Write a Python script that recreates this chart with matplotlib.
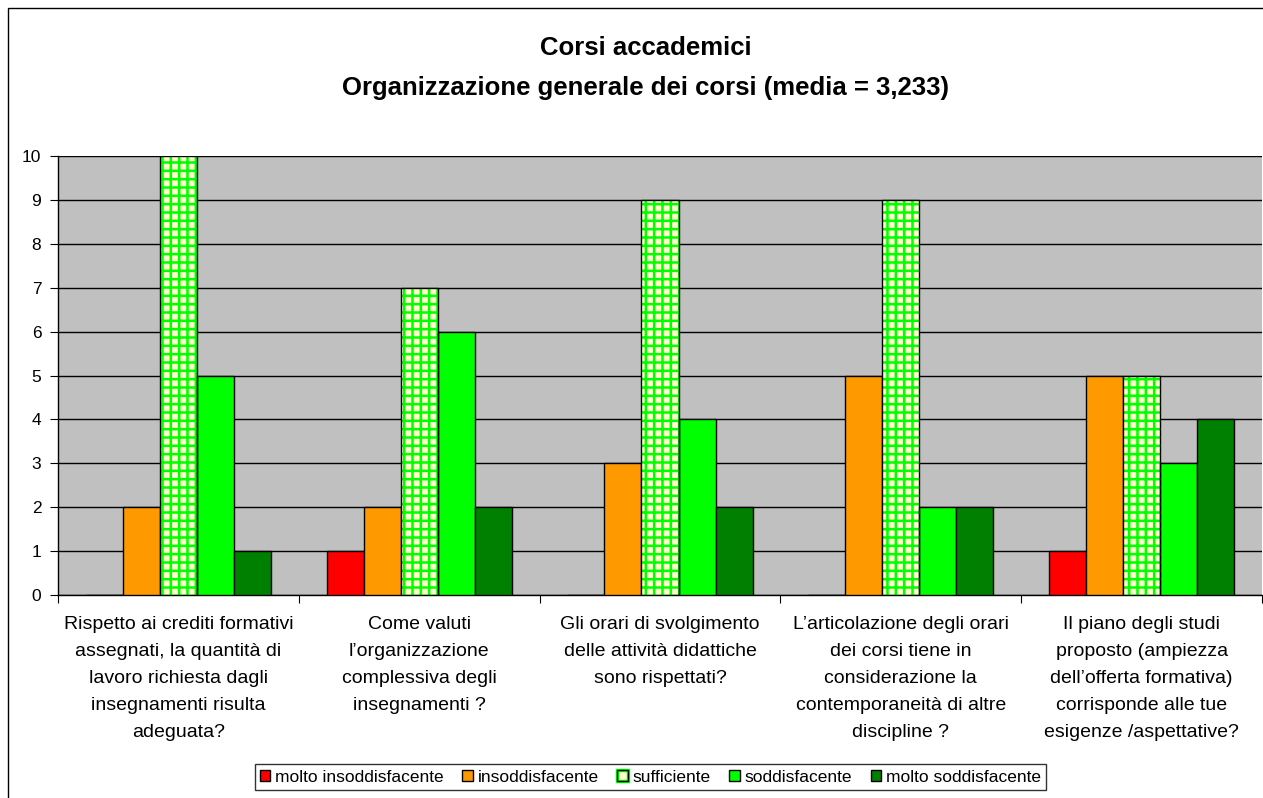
import matplotlib.pyplot as plt
import numpy as np
from matplotlib.patches import Patch, Rectangle
from matplotlib.legend_handler import HandlerTuple

plt.rcParams["font.family"] = ["Liberation Sans", "DejaVu Sans"]
plt.rcParams["hatch.linewidth"] = 1.8

questions = [
    "Rispetto ai crediti formativi\nassegnati, la quantità di\nlavoro richiesta dagli\ninsegnamenti risulta\nadeguata?",
    "Come valuti\nl’organizzazione\ncomplessiva degli\ninsegnamenti ?",
    "Gli orari di svolgimento\ndelle attività didattiche\nsono rispettati?",
    "L’articolazione degli orari\ndei corsi tiene in\nconsiderazione la\ncontemporaneità di altre\ndiscipline ?",
    "Il piano degli studi\nproposto (ampiezza\ndell’offerta formativa)\ncorrisponde alle tue\nesigenze /aspettative?",
]
levels = ["molto insoddisfacente", "insoddisfacente", "sufficiente",
          "soddisfacente", "molto soddisfacente"]
molto_insodd = [0, 1, 0, 0, 1]
insodd = [2, 2, 3, 5, 5]
sufficiente = [10, 7, 9, 9, 5]
soddisf = [5, 6, 4, 2, 3]
molto_sodd = [1, 2, 2, 2, 4]
series = [molto_insodd, insodd, sufficiente, soddisf, molto_sodd]
colors = ["#FF0000", "#FF9900", "#FFFFCC", "#00FF00", "#008000"]

fig = plt.figure(figsize=(12.63, 7.98), dpi=100)
ax = fig.add_axes([58 / 1263, 1 - 595 / 798, (1262 - 58) / 1263, (595 - 156) / 798])
ax.set_facecolor("#C0C0C0")

x = np.arange(len(questions))
w = 1 / 6.5
for j, (vals, col) in enumerate(zip(series, colors)):
    pos = x + (j - 2) * w
    if levels[j] == "sufficiente":
        ax.bar(pos, vals, width=w, color=col, edgecolor="#00FF00", linewidth=0,
               hatch="++", zorder=3)
        ax.bar(pos, vals, width=w, fill=False, edgecolor="black", linewidth=1, zorder=4)
    else:
        ax.bar(pos, vals, width=w, color=col, edgecolor="black", linewidth=1, zorder=3)

ax.set_xlim(-0.5, 4.5)
ax.set_ylim(0, 10)
ax.set_yticks(range(11))
ax.yaxis.grid(True, color="black", linewidth=1)
ax.set_axisbelow(True)
ax.set_xticks(np.arange(-0.5, 5, 1))
ax.set_xticklabels([])
ax.set_xticks(x, minor=True)
ax.set_xticklabels(questions, minor=True, fontsize=14, linespacing=1.78, va="top")
ax.tick_params(axis="x", which="minor", length=0, pad=15)
ax.tick_params(axis="x", which="major", length=6, direction="out", color="black")
ax.tick_params(axis="y", length=6, direction="out", labelsize=12.5, pad=6)
for s in ["top", "right"]:
    ax.spines[s].set_visible(False)
for s in ["left", "bottom"]:
    ax.spines[s].set_color("black")
    ax.spines[s].set_linewidth(1)

fig.text(0.511, 1 - 48 / 798, "Corsi accademici", ha="center", va="center",
         fontsize=18.5, fontweight="bold")
fig.text(0.511, 1 - 88 / 798, "Organizzazione generale dei corsi (media = 3,233)",
         ha="center", va="center", fontsize=18.5, fontweight="bold")

handles = []
for lv, col in zip(levels, colors):
    if lv == "sufficiente":
        handles.append((Patch(facecolor=col, edgecolor="#00FF00", linewidth=2.5),
                        Patch(fill=False, edgecolor="black", linewidth=1)))
    else:
        handles.append(Patch(facecolor=col, edgecolor="black", linewidth=1))
leg = fig.legend(handles, levels, loc="center", bbox_to_anchor=(0.515, 1 - 777 / 798),
                 ncol=5, fontsize=12.5, frameon=True, fancybox=False, edgecolor="black",
                 handlelength=0.6, handleheight=0.6, handletextpad=0.3, columnspacing=1.05,
                 borderpad=0.3, handler_map={tuple: HandlerTuple(ndivide=1, pad=0)})
leg.get_frame().set_linewidth(1)

fig.patches.append(Rectangle((8 / 1263, -0.1), 2, 1.1 - 8 / 798, transform=fig.transFigure,
                             fill=False, edgecolor="black", linewidth=1))

fig.savefig("out.png", dpi=100)
